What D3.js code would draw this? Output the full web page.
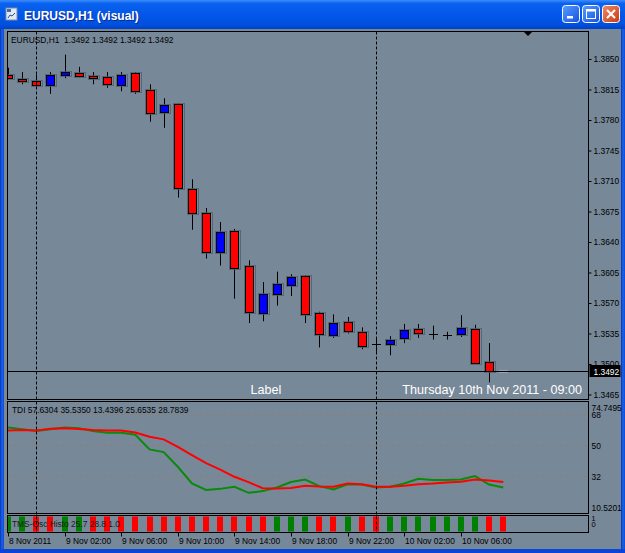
<!DOCTYPE html>
<html>
<head>
<meta charset="utf-8">
<title>EURUSD,H1 (visual)</title>
<script src="https://cdn.jsdelivr.net/npm/d3@7"></script>
<style>
  html, body { margin: 0; padding: 0; background: #fff; }
  svg { display: block; font-family: "Liberation Sans", Arial, sans-serif; }
</style>
</head>
<body>
<div id="chart"></div>
<script>
var W = 625, H = 553;

// hourly bars, 8 Nov 2011 22:00 .. 10 Nov 2011 09:00
var times = [
  "2011.11.08 22:00", "2011.11.08 23:00",
  "2011.11.09 00:00", "2011.11.09 01:00", "2011.11.09 02:00", "2011.11.09 03:00",
  "2011.11.09 04:00", "2011.11.09 05:00", "2011.11.09 06:00", "2011.11.09 07:00",
  "2011.11.09 08:00", "2011.11.09 09:00", "2011.11.09 10:00", "2011.11.09 11:00",
  "2011.11.09 12:00", "2011.11.09 13:00", "2011.11.09 14:00", "2011.11.09 15:00",
  "2011.11.09 16:00", "2011.11.09 17:00", "2011.11.09 18:00", "2011.11.09 19:00",
  "2011.11.09 20:00", "2011.11.09 21:00", "2011.11.09 22:00", "2011.11.09 23:00",
  "2011.11.10 00:00", "2011.11.10 01:00", "2011.11.10 02:00", "2011.11.10 03:00",
  "2011.11.10 04:00", "2011.11.10 05:00", "2011.11.10 06:00", "2011.11.10 07:00",
  "2011.11.10 08:00", "2011.11.10 09:00"
];

var open  = [1.3832, 1.3827, 1.3825, 1.3821, 1.3831, 1.3834, 1.3830, 1.3829, 1.3820, 1.3834,
             1.3814, 1.3789, 1.3798, 1.3701, 1.3673, 1.3629, 1.3653, 1.3612, 1.3558, 1.3581,
             1.3591, 1.3601, 1.3558, 1.3533, 1.3548, 1.3537, 1.3523, 1.3523, 1.3530, 1.3540,
             1.3534, 1.3533, 1.3534, 1.3540, 1.3502, 1.3492];
var high  = [1.3840, 1.3835, 1.3832, 1.3835, 1.3855, 1.3841, 1.3835, 1.3835, 1.3835, 1.3835,
             1.3821, 1.3805, 1.3799, 1.3712, 1.3679, 1.3663, 1.3655, 1.3619, 1.3594, 1.3606,
             1.3603, 1.3602, 1.3560, 1.3557, 1.3554, 1.3542, 1.3531, 1.3532, 1.3546, 1.3546,
             1.3544, 1.3537, 1.3556, 1.3545, 1.3524, 1.3492];
var low   = [1.3828, 1.3821, 1.3820, 1.3810, 1.3828, 1.3829, 1.3821, 1.3817, 1.3813, 1.3810,
             1.3778, 1.3771, 1.3691, 1.3654, 1.3621, 1.3613, 1.3575, 1.3547, 1.3549, 1.3567,
             1.3578, 1.3547, 1.3519, 1.3530, 1.3535, 1.3517, 1.3514, 1.3510, 1.3524, 1.3530,
             1.3528, 1.3528, 1.3531, 1.3500, 1.3479, 1.3492];
var close = [1.3828, 1.3825, 1.3820, 1.3832, 1.3835, 1.3831, 1.3828, 1.3821, 1.3832, 1.3813,
             1.3788, 1.3797, 1.3702, 1.3674, 1.3628, 1.3652, 1.3611, 1.3559, 1.3580, 1.3592,
             1.3600, 1.3557, 1.3534, 1.3547, 1.3538, 1.3521, 1.3523, 1.3528, 1.3539, 1.3535,
             1.3534, 1.3533, 1.3541, 1.3501, 1.3492, 1.3492];

// TDI: green price line, red signal line
var tdiPrice  = [60.4, 59.3, 58.3, 59.3, 60.4, 60.0, 58.3, 57.3, 57.3, 56.2,
                 47.7, 46.1, 37.6, 27.9, 24.2, 24.8, 26.0, 22.5, 23.5, 25.6,
                 28.8, 30.2, 26.4, 24.4, 27.5, 27.3, 25.6, 26.0, 27.9, 30.6,
                 30.0, 30.0, 30.2, 32.2, 27.3, 25.65];
var tdiSignal = [58.7, 58.9, 58.7, 59.7, 59.9, 59.5, 58.9, 58.7, 58.7, 57.5,
                 55.0, 53.5, 49.2, 44.4, 39.7, 36.0, 31.8, 28.7, 25.2, 25.0,
                 25.3, 26.6, 26.2, 26.0, 27.9, 27.5, 26.0, 26.0, 26.6, 27.5,
                 27.9, 28.5, 28.9, 30.2, 29.7, 28.78];

// TMS-Osc histogram: 1 = green (up), 0 = red (down)
var histoUp = [1, 1, 0, 0, 1, 1, 0, 0, 0, 0, 0, 0, 0, 0, 0, 0, 0, 0, 0, 1,
               1, 1, 0, 0, 1, 0, 0, 1, 1, 1, 1, 1, 1, 1, 0, 0];
var histoValue = [1, 1, 1, 1, 1, 1, 1, 1, 1, 1, 1, 1, 1, 1, 1, 1, 1, 1, 1, 1,
                  1, 1, 1, 1, 1, 1, 1, 1, 1, 1, 1, 1, 1, 1, 1, 1];

var priceTicks = [1.3850, 1.3815, 1.3780, 1.3745, 1.3710, 1.3675, 1.3640, 1.3605,
                  1.3570, 1.3535, 1.3500, 1.3465];
var tdiLevels = [68, 50, 32];
var tdiMax = 74.7495, tdiMin = 10.5201;
var timeTicks = ["2011.11.08 22:00", "2011.11.09 02:00", "2011.11.09 06:00", "2011.11.09 10:00",
                 "2011.11.09 14:00", "2011.11.09 18:00", "2011.11.09 22:00", "2011.11.10 02:00",
                 "2011.11.10 06:00"];
var timeTickLabels = ["8 Nov 2011", "9 Nov 02:00", "9 Nov 06:00", "9 Nov 10:00", "9 Nov 14:00",
                      "9 Nov 18:00", "9 Nov 22:00", "10 Nov 02:00", "10 Nov 06:00"];
var daySeparators = ["2011.11.09 00:00", "2011.11.10 00:00"];
var bid = 1.3492;

var BG = "#778899";
var L = 7.5, R = 588.5;
var mainP = {top: 31.5, bottom: 399.5};
var tdiP = {top: 401.5, bottom: 513.5};
var histP = {top: 515.5, bottom: 532.5};

var svg = d3.select("#chart").append("svg")
  .attr("width", W).attr("height", H);
var defs = svg.append("defs");

// ---- window chrome ----
var tg = defs.append("linearGradient").attr("id", "titleGrad")
  .attr("x1", 0).attr("y1", 0).attr("x2", 0).attr("y2", 1);
tg.append("stop").attr("offset", "0").attr("stop-color", "#3d8dfb");
tg.append("stop").attr("offset", "0.12").attr("stop-color", "#0a62f0");
tg.append("stop").attr("offset", "0.5").attr("stop-color", "#0257e8");
tg.append("stop").attr("offset", "0.85").attr("stop-color", "#0150df");
tg.append("stop").attr("offset", "1").attr("stop-color", "#0043c4");

var sg = defs.append("linearGradient").attr("id", "sideGrad")
  .attr("x1", 0).attr("y1", 0).attr("x2", 1).attr("y2", 0);
sg.append("stop").attr("offset", "0").attr("stop-color", "#0832b8");
sg.append("stop").attr("offset", "0.5").attr("stop-color", "#1a64ea");
sg.append("stop").attr("offset", "1").attr("stop-color", "#0c4ad8");

var bg = defs.append("linearGradient").attr("id", "btnGrad")
  .attr("x1", 0).attr("y1", 0).attr("x2", 1).attr("y2", 1);
bg.append("stop").attr("offset", "0").attr("stop-color", "#5a9cff");
bg.append("stop").attr("offset", "1").attr("stop-color", "#1452e0");

var cg = defs.append("linearGradient").attr("id", "closeGrad")
  .attr("x1", 0).attr("y1", 0).attr("x2", 1).attr("y2", 1);
cg.append("stop").attr("offset", "0").attr("stop-color", "#f08a64");
cg.append("stop").attr("offset", "1").attr("stop-color", "#c93a12");

svg.append("rect").attr("width", W).attr("height", H).attr("fill", "#0a46d6");
svg.append("rect").attr("width", W).attr("height", 29).attr("fill", "url(#titleGrad)");
svg.append("rect").attr("x", 0).attr("y", 29).attr("width", 4).attr("height", H - 29).attr("fill", "url(#sideGrad)");
svg.append("rect").attr("x", W - 4).attr("y", 29).attr("width", 4).attr("height", H - 29).attr("fill", "url(#sideGrad)");
svg.append("rect").attr("x", 0).attr("y", H - 4).attr("width", W).attr("height", 4).attr("fill", "#0a46d6");
svg.append("rect").attr("x", 4).attr("y", 29).attr("width", W - 8).attr("height", H - 33).attr("fill", BG);

// title icon
var icon = svg.append("g").attr("transform", "translate(6,8)");
icon.append("rect").attr("width", 11).attr("height", 12).attr("fill", "#dfe8f5").attr("stroke", "#7a8aa8");
icon.append("rect").attr("x", 1).attr("y", 1).attr("width", 4).attr("height", 3).attr("fill", "#4a6a98");
icon.append("path").attr("d", "M2,10 L4,7 L6,8 L9,5").attr("stroke", "#23508f").attr("fill", "none");

svg.append("text").attr("x", 24).attr("y", 20)
  .attr("fill", "#fff").attr("font-size", 12).attr("font-weight", "bold")
  .style("text-shadow", "1px 1px 0 #0a2a8a")
  .text("EURUSD,H1 (visual)");

// caption buttons
function capButton(x, fill) {
  return svg.append("rect").attr("x", x + 0.5).attr("y", 5.5).attr("width", 17).attr("height", 17)
    .attr("rx", 3).attr("fill", fill).attr("stroke", "#fff");
}
capButton(562, "url(#btnGrad)");
svg.append("rect").attr("x", 567).attr("y", 16).attr("width", 6).attr("height", 2.5).attr("fill", "#fff");
capButton(582, "url(#btnGrad)");
svg.append("rect").attr("x", 586.5).attr("y", 9.5).attr("width", 9).attr("height", 9)
  .attr("fill", "none").attr("stroke", "#fff");
svg.append("rect").attr("x", 586.5).attr("y", 9.5).attr("width", 9).attr("height", 2).attr("fill", "#fff");
capButton(602, "url(#closeGrad)");
svg.append("path").attr("d", "M607,10 L615,18 M615,10 L607,18")
  .attr("stroke", "#fff").attr("stroke-width", 2);

// ---- scales ----
var x = d3.scalePoint().domain(times).range([8, 503.25]);
var yPrice = d3.scaleLinear().domain([1.3465, 1.3850]).range([394.5, 59]);
var yTdi = d3.scaleLinear().domain([tdiMin, tdiMax]).range([tdiP.bottom, tdiP.top + 1.2]);
var yHist = d3.scaleLinear().domain([0, 1]).range([531.5, 516.5]);

function px(t) { return Math.round(x(t)); }

// clip paths for panels
function clip(id, p) {
  defs.append("clipPath").attr("id", id).append("rect")
    .attr("x", L + 0.5).attr("y", p.top + 0.5).attr("width", R - L - 1).attr("height", p.bottom - p.top - 1);
}
clip("clipMain", mainP);
clip("clipTdi", tdiP);
clip("clipHist", histP);

// ---- histogram panel ----
var gh = svg.append("g").attr("clip-path", "url(#clipHist)");
gh.selectAll("rect.hb").data(times).join("rect").attr("class", "hb")
  .attr("x", function(t) { return px(t) - 3; })
  .attr("y", function(t, i) { return yHist(histoValue[i]); })
  .attr("width", 6)
  .attr("height", function(t, i) { return yHist(0) - yHist(histoValue[i]); })
  .attr("fill", function(t, i) { return histoUp[i] ? "#008000" : "#ff0000"; });

// ---- TDI panel ----
var gt = svg.append("g").attr("clip-path", "url(#clipTdi)");
gt.selectAll("line.lvl").data(tdiLevels).join("line").attr("class", "lvl")
  .attr("x1", L).attr("x2", R)
  .attr("y1", function(d) { return Math.round(yTdi(d)) + 0.5; })
  .attr("y2", function(d) { return Math.round(yTdi(d)) + 0.5; })
  .attr("stroke", "#8c7f72").attr("stroke-dasharray", "3,3");

var tdiLine = function(arr) {
  return d3.line().x(function(t) { return x(t); })
    .y(function(t, i) { return yTdi(arr[i]); })(times);
};
gt.append("path").attr("d", tdiLine(tdiPrice)).attr("fill", "none")
  .attr("stroke", "#0a8a0a").attr("stroke-width", 2);
gt.append("path").attr("d", tdiLine(tdiSignal)).attr("fill", "none")
  .attr("stroke", "#ff0000").attr("stroke-width", 2);

// ---- main panel: candles ----
var gm = svg.append("g").attr("clip-path", "url(#clipMain)");
var bars = times.map(function(t, i) {
  return {t: t, o: open[i], h: high[i], l: low[i], c: close[i]};
});
var flat = function(d) { return d.h === d.l; };

gm.selectAll("line.wick").data(bars.filter(function(d) { return !flat(d); })).join("line")
  .attr("class", "wick")
  .attr("x1", function(d) { return px(d.t) + 0.5; })
  .attr("x2", function(d) { return px(d.t) + 0.5; })
  .attr("y1", function(d) { return yPrice(d.h); })
  .attr("y2", function(d) { return yPrice(d.l); })
  .attr("stroke", "#000");

var bodies = bars.filter(function(d) { return d.o !== d.c; });
gm.selectAll("rect.shadow").data(bodies).join("rect").attr("class", "shadow")
  .attr("x", function(d) { return px(d.t) - 4.5; })
  .attr("y", function(d) { return Math.round(yPrice(Math.max(d.o, d.c))) - 0.5; })
  .attr("width", 11)
  .attr("height", function(d) { return Math.max(2, Math.round(Math.abs(yPrice(d.o) - yPrice(d.c)))) + 2; })
  .attr("fill", "none").attr("stroke", "#4b5a68").attr("stroke-width", 1).attr("opacity", 0.7);
gm.selectAll("rect.body").data(bodies).join("rect").attr("class", "body")
  .attr("x", function(d) { return px(d.t) - 3.5; })
  .attr("y", function(d) { return Math.round(yPrice(Math.max(d.o, d.c))) + 0.5; })
  .attr("width", 8)
  .attr("height", function(d) { return Math.max(1, Math.round(Math.abs(yPrice(d.o) - yPrice(d.c)))); })
  .attr("fill", function(d) { return d.c > d.o ? "#0000ff" : "#ff0000"; })
  .attr("stroke", "#000");

gm.selectAll("line.doji").data(bars.filter(function(d) { return d.o === d.c; })).join("line")
  .attr("class", "doji")
  .attr("x1", function(d) { return px(d.t) - 4; })
  .attr("x2", function(d) { return px(d.t) + 5; })
  .attr("y1", function(d) { return Math.round(yPrice(d.c)) + 0.5; })
  .attr("y2", function(d) { return Math.round(yPrice(d.c)) + 0.5; })
  .attr("stroke", function(d) { return flat(d) ? "#fff" : "#000"; })
  .attr("stroke-width", function(d) { return flat(d) ? 1.5 : 1; });

// bid line
svg.append("line").attr("x1", L).attr("x2", R)
  .attr("y1", Math.round(yPrice(bid)) + 0.5).attr("y2", Math.round(yPrice(bid)) + 0.5)
  .attr("stroke", "#000");

// day separators through all panels
svg.selectAll("line.sep").data(daySeparators).join("line").attr("class", "sep")
  .attr("x1", function(t) { return px(t) + 0.5; })
  .attr("x2", function(t) { return px(t) + 0.5; })
  .attr("y1", mainP.top).attr("y2", histP.bottom)
  .attr("stroke", "#000").attr("stroke-dasharray", "3,2");

// panel frames
[mainP, tdiP, histP].forEach(function(p) {
  svg.append("rect").attr("x", L).attr("y", p.top).attr("width", R - L).attr("height", p.bottom - p.top)
    .attr("fill", "none").attr("stroke", "#000");
});

// shift marker
svg.append("path").attr("d", "M524,32 L532,32 L528,36 Z").attr("fill", "#000");

// ---- axes ----
var fs = 8.4;
var pa = svg.append("g").attr("transform", "translate(" + R + ",0)")
  .call(d3.axisRight(yPrice).tickValues(priceTicks).tickSize(3).tickPadding(2)
    .tickFormat(d3.format(".4f")));
pa.select(".domain").remove();
pa.selectAll("line").attr("stroke", "#000");
pa.selectAll("text").attr("font-size", fs).attr("fill", "#000").attr("font-family", "Liberation Sans, Arial");

// bid label
var by = Math.round(yPrice(bid));
svg.append("rect").attr("x", R + 1).attr("y", by - 6).attr("width", 31).attr("height", 12).attr("fill", "#000");
svg.append("text").attr("x", R + 5).attr("y", by + 3.5).attr("fill", "#fff").attr("font-size", fs)
  .text(d3.format(".4f")(bid));

// TDI axis
var ta = svg.append("g").attr("transform", "translate(" + R + ",0)")
  .call(d3.axisRight(yTdi).tickValues([tdiMax].concat(tdiLevels).concat([tdiMin]))
    .tickSize(0).tickPadding(3).tickFormat(function(d) { return d % 1 ? d3.format(".4f")(d) : d; }));
ta.select(".domain").remove();
ta.selectAll("text").attr("font-size", fs).attr("fill", "#000").attr("font-family", "Liberation Sans, Arial")
  .attr("dy", function(d) { return d === tdiMax ? "0.95em" : d === tdiMin ? "-0.3em" : "0.32em"; });

// histogram axis
svg.append("text").attr("x", R + 3).attr("y", 521).attr("font-size", 7).attr("fill", "#000").text("1");
svg.append("text").attr("x", R + 3).attr("y", 527).attr("font-size", 7.5).attr("fill", "#000").text("0");

// time axis
var xa = svg.append("g").attr("transform", "translate(0," + histP.bottom + ")");
xa.selectAll("line").data(timeTicks).join("line")
  .attr("x1", function(t) { return px(t) + 0.5; })
  .attr("x2", function(t) { return px(t) + 0.5; })
  .attr("y1", 0).attr("y2", 4).attr("stroke", "#000");
xa.selectAll("text").data(timeTicks).join("text")
  .attr("x", function(t) { return px(t) + 1; })
  .attr("y", 11.5).attr("font-size", fs).attr("fill", "#000")
  .text(function(t, i) { return timeTickLabels[i]; });

// ---- panel captions ----
svg.append("text").attr("x", 11).attr("y", 43).attr("font-size", fs).attr("fill", "#000")
  .attr("xml:space", "preserve")
  .text("EURUSD,H1  " + [open, high, low, close].map(function(a) { return d3.format(".4f")(a[a.length - 1]); }).join(" "));
svg.append("text").attr("x", 12).attr("y", 413).attr("font-size", fs).attr("fill", "#000")
  .text("TDI 57.6304 35.5350 13.4396 " + d3.format(".4f")(25.6535) + " " + d3.format(".4f")(28.7839));
svg.append("text").attr("x", 12).attr("y", 527).attr("font-size", fs).attr("fill", "#1a1a1a")
  .text("TMS-Osc Histo 25.7 28.8 1.0");

// text objects on the main chart
svg.append("text").attr("x", 266).attr("y", 393.5).attr("text-anchor", "middle")
  .attr("font-size", 12.6).attr("fill", "#fff").text("Label");
svg.append("text").attr("x", 582).attr("y", 393.5).attr("text-anchor", "end")
  .attr("font-size", 12.6).attr("fill", "#fff").text("Thursday 10th Nov 2011 - 09:00");
</script>
</body>
</html>
